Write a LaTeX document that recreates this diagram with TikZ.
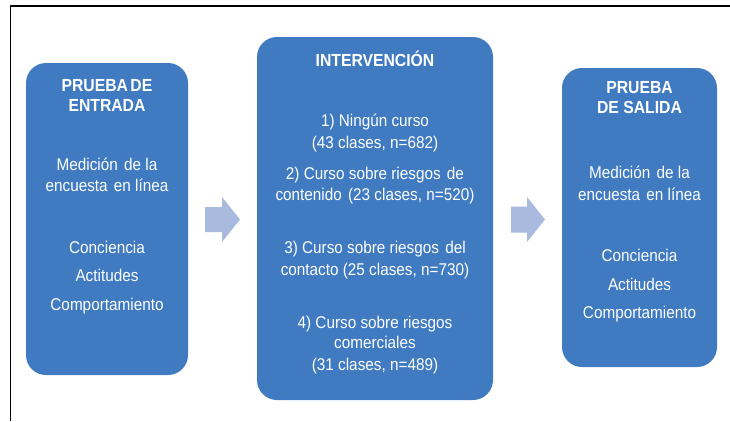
\documentclass[tikz,border=0pt]{standalone}
\usepackage{fontspec}
\setmainfont{Liberation Sans}[FakeStretch=0.9]
\definecolor{boxblue}{RGB}{64,123,194}
\definecolor{arrowblue}{RGB}{168,186,222}
\begin{document}
\begin{tikzpicture}[x=1pt,y=-1pt,
  bluebox/.style={fill=boxblue,draw=none,rounded corners=20pt,inner sep=0pt},
  txt/.style={text=white,anchor=base,inner sep=0pt,font=\fontsize{17}{20}\selectfont},
  ttl/.style={txt,font=\fontsize{17.5}{20}\selectfont\bfseries},
  blockarrow/.style={fill=arrowblue,draw=none}]
\useasboundingbox (0,0) rectangle (730,421);
\fill[white] (0,0) rectangle (730,421);
\draw[line width=1.3pt,black] (10.5,421) -- (10.5,6) -- (730,6);
% boxes
\node[bluebox,minimum width=162pt,minimum height=312pt] (entrada) at (107,219) {};
\node[bluebox,minimum width=236pt,minimum height=363pt] (interv) at (375,218.5) {};
\node[bluebox,minimum width=155pt,minimum height=299pt] (salida) at (639.5,217.5) {};
% arrows
\fill[blockarrow] (205,207) -- (222,207) -- (222,197) -- (240,219.5) -- (222,242) -- (222,232) -- (205,232) -- cycle;
\fill[blockarrow] (511,206.5) -- (527,206.5) -- (527,197) -- (545,219.5) -- (527,242) -- (527,232.5) -- (511,232.5) -- cycle;
% left texts
\node[ttl] (e1) at (107,91.5) {PRUEBA\kern-2pt\ DE};
\node[ttl] (e2) at (107,111) {ENTRADA};
\node[txt] (e3) at (107,170) {Medición\kern2pt\ de la};
\node[txt] (e4) at (107,191.5) {encuesta\kern2pt\ en línea};
\node[txt] (e5) at (107,253.5) {Conciencia};
\node[txt] (e6) at (107,281.5) {Actitudes};
\node[txt] (e7) at (107,310) {Comportamiento};
% middle texts
\node[ttl] (i0) at (375,66) {INTERVENCIÓN};
\node[txt] (i1) at (375,126.5) {1) Ningún curso};
\node[txt] (i2) at (375,148) {(43 clases, n=682)};
\node[txt] (i3) at (375,179) {2) Curso sobre riesgos\kern2pt\ de};
\node[txt] (i4) at (375,200.5) {contenido\kern2pt\ (23 clases, n=520)};
\node[txt] (i5) at (375,253) {3) Curso sobre riesgos\kern2pt\ del};
\node[txt] (i6) at (375,275) {contacto (25 clases, n=730)};
\node[txt] (i7) at (375,328) {4) Curso sobre riesgos};
\node[txt] (i8) at (375,348.5) {comerciales};
\node[txt] (i9) at (375,370) {(31 clases, n=489)};
% right texts
\node[ttl] (s1) at (639.5,93.3) {PRUEBA};
\node[ttl] (s2) at (639.5,113.3) {DE SALIDA};
\node[txt] (s3) at (639.5,178) {Medición\kern2pt\ de la};
\node[txt] (s4) at (639.5,200) {encuesta\kern2pt\ en línea};
\node[txt] (s5) at (639.5,261.5) {Conciencia};
\node[txt] (s6) at (639.5,290) {Actitudes};
\node[txt] (s7) at (639.5,318) {Comportamiento};
\end{tikzpicture}
\end{document}
